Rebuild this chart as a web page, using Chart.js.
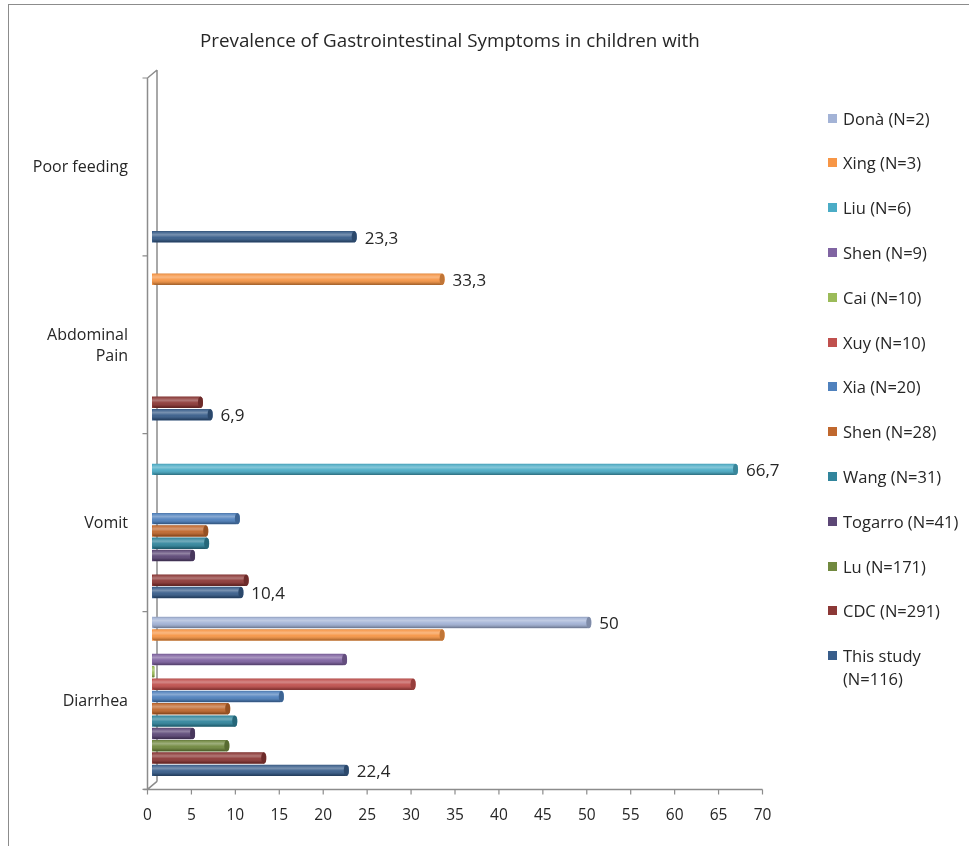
<!DOCTYPE html>
<html>
<head>
<meta charset="utf-8">
<title>Prevalence of Gastrointestinal Symptoms</title>
<script src="https://cdn.jsdelivr.net/npm/chart.js@4.4.1/dist/chart.umd.min.js"></script>
<style>
  html, body { margin: 0; padding: 0; background: #fff; }
  #wrap { position: relative; width: 969px; height: 846px; overflow: hidden; font-family: "Open Sans", "Noto Sans", sans-serif; color: #262626; }
  #frame { position: absolute; left: 8px; top: 4px; width: 980px; height: 860px; border: 1.5px solid #8c8c8c; box-sizing: border-box; }
  #chart { position: absolute; left: 0; top: 0; width: 969px; height: 846px; }
  #title { position: absolute; left: 200px; top: 28px; white-space: nowrap; font-size: 18.8px; line-height: 24px; }
  #legend { position: absolute; left: 0; top: 0; }
  .item { position: absolute; left: 828px; width: 141px; font-size: 16.5px; line-height: 23px; }
  .item .sw { position: absolute; left: 0; top: 7px; width: 9px; height: 9px; }
  .item .tx { position: absolute; left: 15px; width: 124px; }
</style>
</head>
<body>
<div id="wrap">
  <div id="frame"></div>
  <canvas id="chart" width="969" height="846"></canvas>
  <div id="title">Prevalence of Gastrointestinal Symptoms in children with</div>
  <div id="legend"></div>
</div>
<script>
// Symptom categories, top to bottom
const categories = ['Poor feeding', ['Abdominal', 'Pain'], 'Vomit', 'Diarrhea'];

// Studies, listed in the order they are stacked inside each category (top first)
const studies = [
  'Donà (N=2)', 'Xing (N=3)', 'Liu (N=6)', 'Shen (N=9)', 'Cai (N=10)', 'Xuy (N=10)',
  'Xia (N=20)', 'Shen (N=28)', 'Wang (N=31)', 'Togarro (N=41)', 'Lu (N=171)',
  'CDC (N=291)', 'This study (N=116)'
];

// Prevalence (%) per study: [Poor feeding, Abdominal Pain, Vomit, Diarrhea]
const dona      = [null, null, null, 50];
const xing      = [null, 33.3, null, 33.3];
const liu       = [null, null, 66.7, null];
const shen9     = [null, null, null, 22.2];
const cai       = [null, null, null, 0.3];
const xuy       = [null, null, null, 30];
const xia       = [null, null, 10, 15];
const shen28    = [null, null, 6.4, 8.9];
const wang      = [null, null, 6.5, 9.7];
const togarro   = [null, null, 4.9, 4.9];
const lu        = [null, null, null, 8.8];
const cdc       = [null, 5.8, 11, 13];
const thisStudy = [23.3, 6.9, 10.4, 22.4];

const seriesValues = [dona, xing, liu, shen9, cai, xuy, xia, shen28, wang, togarro, lu, cdc, thisStudy];

// Values that carry a printed label
const labelled = {
  'Donà (N=2)':         [false, false, false, true],
  'Xing (N=3)':         [false, true, false, false],
  'Liu (N=6)':          [false, false, true, false],
  'This study (N=116)': [true, true, true, true]
};

// Value axis ticks
const xTicks = [0, 5, 10, 15, 20, 25, 30, 35, 40, 45, 50, 55, 60, 65, 70];

const colors = [
  '#a3b3d6', '#f79646', '#4bacc6', '#8064a2', '#9bbb59', '#c0504d',
  '#4f81bd', '#c0682e', '#31859c', '#5c4776', '#71893f',
  '#8c3836', '#385d8a'
];

const fmt = v => String(v).replace('.', ',');
const FONT = '"Open Sans", "Noto Sans", sans-serif';

// Depth offsets of the pseudo-3D box (front plane vs. bar plane)
const FRONT_DX = -4.5, FRONT_DY = 4;
const BACK_DX = 5, BACK_DY = -4;
const AXIS_GREY = '#8c8c8c';

// Axis box: back wall, front axis lines and tick marks
const boxPlugin = {
  id: 'box3d',
  beforeDatasetsDraw(chart) {
    const { ctx, chartArea: a, scales } = chart;
    const xs = scales.x;
    ctx.save();
    ctx.strokeStyle = AXIS_GREY;
    ctx.lineWidth = 1.5;
    const fx = a.left + FRONT_DX, bx = a.left + BACK_DX;
    const fTop = a.top + FRONT_DY, fBot = a.bottom + FRONT_DY;
    const bTop = a.top + BACK_DY, bBot = a.bottom + BACK_DY;
    ctx.beginPath();
    // back wall edge
    ctx.moveTo(bx, bTop); ctx.lineTo(bx, bBot);
    // front vertical axis
    ctx.moveTo(fx, fTop); ctx.lineTo(fx, fBot);
    // depth edges
    ctx.moveTo(fx, fTop); ctx.lineTo(bx, bTop);
    ctx.moveTo(fx, fBot); ctx.lineTo(bx, bBot);
    // front floor line
    ctx.moveTo(fx - 4, fBot); ctx.lineTo(xs.getPixelForValue(70) + FRONT_DX, fBot);
    ctx.stroke();

    ctx.lineWidth = 1.2;
    ctx.beginPath();
    // category boundaries on the value axis side
    const ys = scales.y;
    const n = ys.ticks.length;
    const step = (a.bottom - a.top) / n;
    for (let k = 0; k <= n; k++) {
      const y = a.top + k * step + FRONT_DY;
      ctx.moveTo(fx - 5, y); ctx.lineTo(fx, y);
    }
    // value ticks
    xTicks.forEach(v => {
      const x = xs.getPixelForValue(v) + FRONT_DX;
      ctx.moveTo(x, fBot); ctx.lineTo(x, fBot + 5);
    });
    ctx.stroke();
    ctx.restore();
  }
};

// Cylinder shading, end caps and value labels
const shadePlugin = {
  id: 'shade',
  afterDatasetsDraw(chart) {
    const ctx = chart.ctx;
    chart.data.datasets.forEach((ds, di) => {
      const meta = chart.getDatasetMeta(di);
      if (meta.hidden) return;
      meta.data.forEach((bar, i) => {
        const v = ds.data[i];
        if (v === null || v === undefined) return;
        const p = bar.getProps(['x', 'y', 'base', 'height'], true);
        const top = p.y - p.height / 2;
        const h = p.height;
        const w = Math.max(p.x - p.base, 1);
        const r = Math.min(h / 2, 4);
        ctx.save();
        ctx.beginPath();
        ctx.roundRect(p.base, top, w, h, r);
        ctx.clip();
        const g = ctx.createLinearGradient(0, top, 0, top + h);
        g.addColorStop(0, 'rgba(0,0,0,0.18)');
        g.addColorStop(0.12, 'rgba(255,255,255,0.10)');
        g.addColorStop(0.32, 'rgba(255,255,255,0.32)');
        g.addColorStop(0.55, 'rgba(255,255,255,0.05)');
        g.addColorStop(0.85, 'rgba(0,0,0,0.18)');
        g.addColorStop(1, 'rgba(0,0,0,0.38)');
        ctx.fillStyle = g;
        ctx.fillRect(p.base, top, w, h);
        ctx.restore();
        // end cap
        if (w > 3) {
          ctx.save();
          ctx.beginPath();
          ctx.ellipse(p.x - 2.5, p.y, 2.5, h / 2, 0, 0, Math.PI * 2);
          ctx.fillStyle = ds.backgroundColor;
          ctx.fill();
          ctx.fillStyle = 'rgba(0,0,0,0.22)';
          ctx.fill();
          ctx.restore();
        }
        const flags = labelled[ds.label];
        if (flags && flags[i]) {
          ctx.save();
          ctx.font = '17px ' + FONT;
          ctx.fillStyle = '#262626';
          ctx.textAlign = 'left';
          ctx.textBaseline = 'middle';
          ctx.fillText(fmt(v), p.x + 8, p.y + 2);
          ctx.restore();
        }
      });
    });
  }
};

const datasets = studies.map((name, k) => ({
  label: name,
  data: seriesValues[k],
  backgroundColor: colors[k],
  borderWidth: 0,
  borderRadius: { topLeft: 4, bottomLeft: 4, topRight: 4, bottomRight: 4 },
  categoryPercentage: 0.9,
  barPercentage: 0.93
}));

new Chart(document.getElementById('chart'), {
  type: 'bar',
  data: { labels: categories, datasets },
  options: {
    indexAxis: 'y',
    responsive: false,
    animation: false,
    layout: { padding: { left: 10, top: 74, right: 202, bottom: 0 } },
    plugins: {
      legend: { display: false },
      title: { display: false },
      tooltip: { enabled: false }
    },
    scales: {
      x: {
        type: 'linear',
        min: 0,
        max: 70,
        grid: { display: false, drawTicks: false },
        border: { display: false },
        afterBuildTicks(scale) { scale.ticks = xTicks.map(v => ({ value: v })); },
        ticks: {
          stepSize: 5,
          padding: 21,
          labelOffset: FRONT_DX,
          color: '#262626',
          font: { family: FONT, size: 15.5 }
        }
      },
      y: {
        type: 'category',
        grid: { display: false, drawTicks: false },
        border: { display: false },
        afterFit(scale) { scale.width = 142; },
        ticks: {
          padding: 24,
          crossAlign: 'near',
          labelOffset: FRONT_DY + 1,
          color: '#262626',
          font: { family: FONT, size: 16, lineHeight: 1.3 }
        }
      }
    }
  },
  plugins: [boxPlugin, shadePlugin]
});

// Series key
const legend = document.getElementById('legend');
studies.forEach((name, k) => {
  const item = document.createElement('div');
  item.className = 'item';
  item.style.top = (118 - 11.5 + 44.8 * k) + 'px';
  const sw = document.createElement('span');
  sw.className = 'sw';
  sw.style.background = colors[k];
  const tx = document.createElement('span');
  tx.className = 'tx';
  tx.textContent = name;
  item.appendChild(sw);
  item.appendChild(tx);
  legend.appendChild(item);
});
</script>
</body>
</html>
